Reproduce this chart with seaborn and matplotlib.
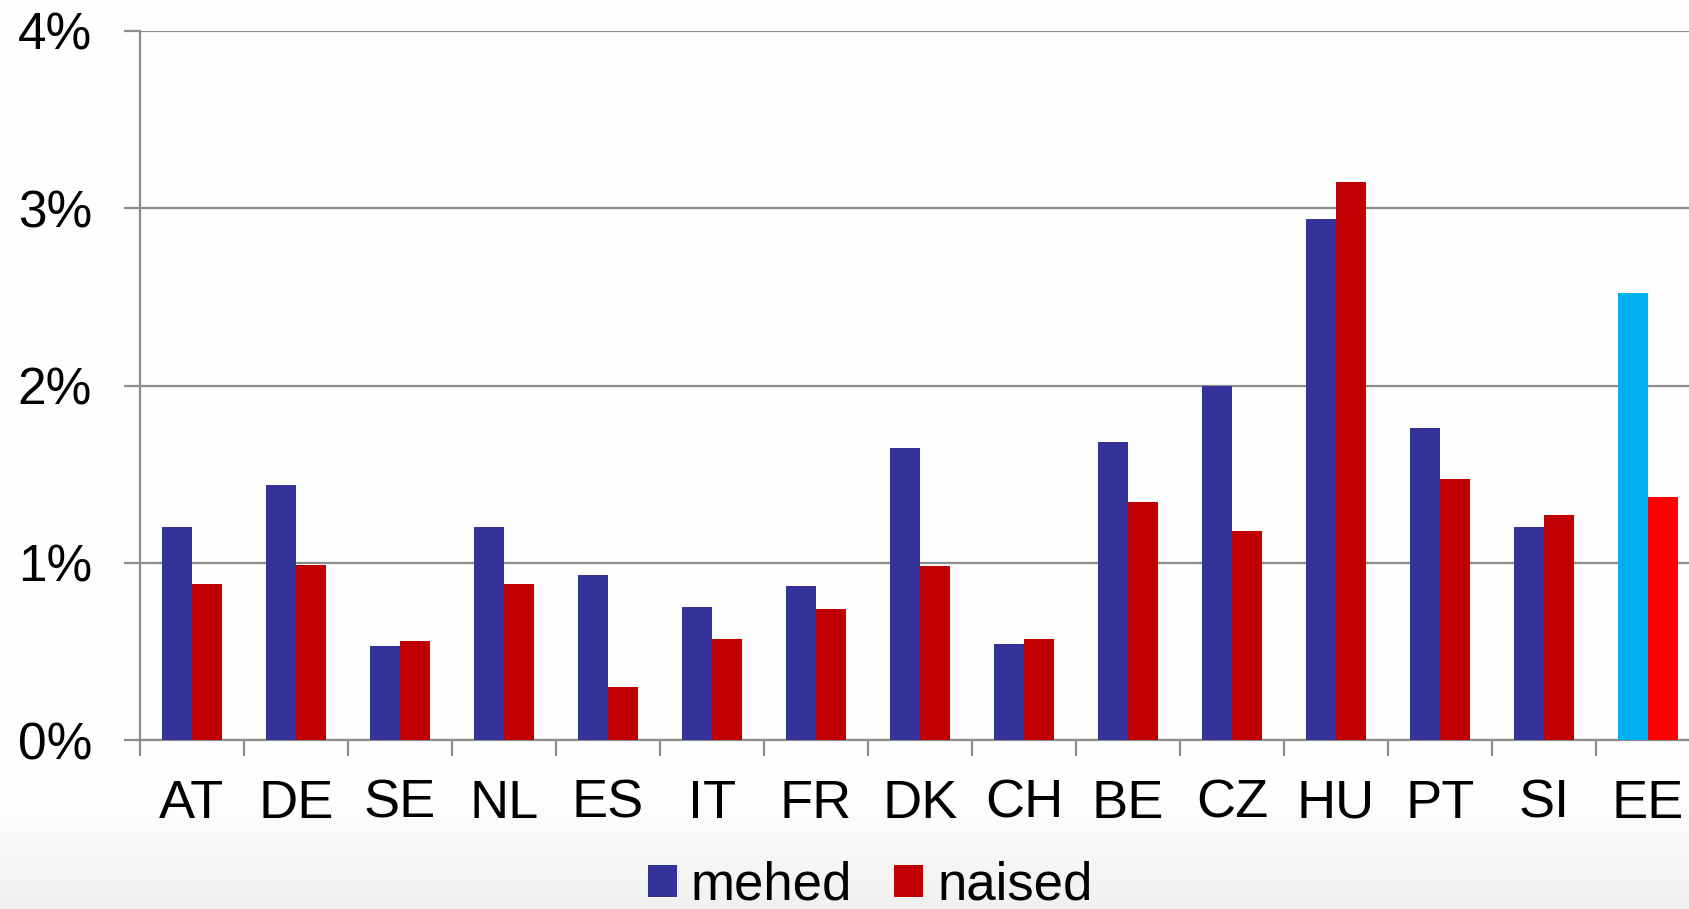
import numpy as np
import pandas as pd
import matplotlib
matplotlib.use("Agg")
import matplotlib.pyplot as plt
from matplotlib.patches import Patch
import seaborn as sns

countries = ["AT", "DE", "SE", "NL", "ES", "IT", "FR", "DK", "CH", "BE", "CZ", "HU", "PT", "SI", "EE"]
men = [1.20, 1.44, 0.53, 1.20, 0.93, 0.75, 0.87, 1.65, 0.54, 1.68, 2.00, 2.94, 1.76, 1.20, 2.52]
women = [0.88, 0.99, 0.56, 0.88, 0.30, 0.57, 0.74, 0.98, 0.57, 1.34, 1.18, 3.15, 1.47, 1.27, 1.37]
series_names = ["mehed", "naised"]
y_ticks = [0, 1, 2, 3, 4]

blue = "#333399"
red = "#C00000"
ee_blue = "#00B0F0"
ee_red = "#FF0000"
grid_grey = "#8c8c8c"

sns.set_theme(style="white")
plt.rcParams["font.family"] = ["Liberation Sans", "DejaVu Sans"]
plt.rcParams["text.color"] = "black"

df = pd.DataFrame({
    "country": countries * 2,
    "value": men + women,
    "sex": [series_names[0]] * len(countries) + [series_names[1]] * len(countries),
})

W, H = 1690, 909
fig = plt.figure(figsize=(W / 100, H / 100), dpi=100, facecolor="white")

# soft grey fade along the bottom of the slide
bg = fig.add_axes([0, 0, 1, 1], zorder=-10)
rows = np.arange(H)
start = 790
t = np.clip((rows - start) / (H - start), 0, 1)
shade = (1.0 - 0.055 * t ** 1.1).reshape(H, 1)
img = np.dstack([shade * 0.997, shade, shade * 0.994])
bg.imshow(img, aspect="auto", extent=[0, 1, 0, 1], origin="upper")
bg.axis("off")

left, right, top, bottom = 140, 1700, 31, 740
ax = fig.add_axes([left / W, (H - bottom) / H, (right - left) / W, (bottom - top) / H])
ax.patch.set_alpha(0)

sns.barplot(data=df, x="country", y="value", hue="sex", order=countries,
            hue_order=series_names, palette=[blue, red], width=0.58,
            saturation=1, legend=False, ax=ax, zorder=3, edgecolor="none", linewidth=0)

# highlight the last country
ax.containers[0][-1].set_facecolor(ee_blue)
ax.containers[1][-1].set_facecolor(ee_red)

ax.set_xlim(-0.5, len(countries) - 0.5)
ax.set_ylim(0, 4)
ax.set_yticks(y_ticks)
ax.set_yticklabels([f"{v}%" for v in y_ticks])
ax.set_xlabel("")
ax.set_ylabel("")

ax.yaxis.grid(True, color=grid_grey, linewidth=1.6, zorder=0)
ax.set_axisbelow(True)
for s in ["top", "right"]:
    ax.spines[s].set_visible(False)
for s in ["left", "bottom"]:
    ax.spines[s].set_color(grid_grey)
    ax.spines[s].set_linewidth(1.6)

ax.tick_params(axis="y", which="major", length=11.5, width=1.6, color=grid_grey,
               pad=23, labelsize=37, left=True, labelcolor="black")
ax.set_xticks(np.arange(-0.5, len(countries), 1.0), minor=True)
ax.tick_params(axis="x", which="minor", length=11.5, width=1.6, color=grid_grey, bottom=True)
ax.tick_params(axis="x", which="major", length=0, pad=28, labelsize=39, labelcolor="black")

handles = [Patch(facecolor=blue, edgecolor="none"), Patch(facecolor=red, edgecolor="none")]
leg = fig.legend(handles, series_names, loc="center", bbox_to_anchor=(0.515, 0.026),
                 ncol=2, frameon=False, fontsize=38, handlelength=0.55, handleheight=0.55,
                 handletextpad=0.27, columnspacing=0.8, borderpad=0, borderaxespad=0)
for txt in leg.get_texts():
    txt.set_color("black")

fig.savefig("out.png", dpi=100, facecolor="white")
